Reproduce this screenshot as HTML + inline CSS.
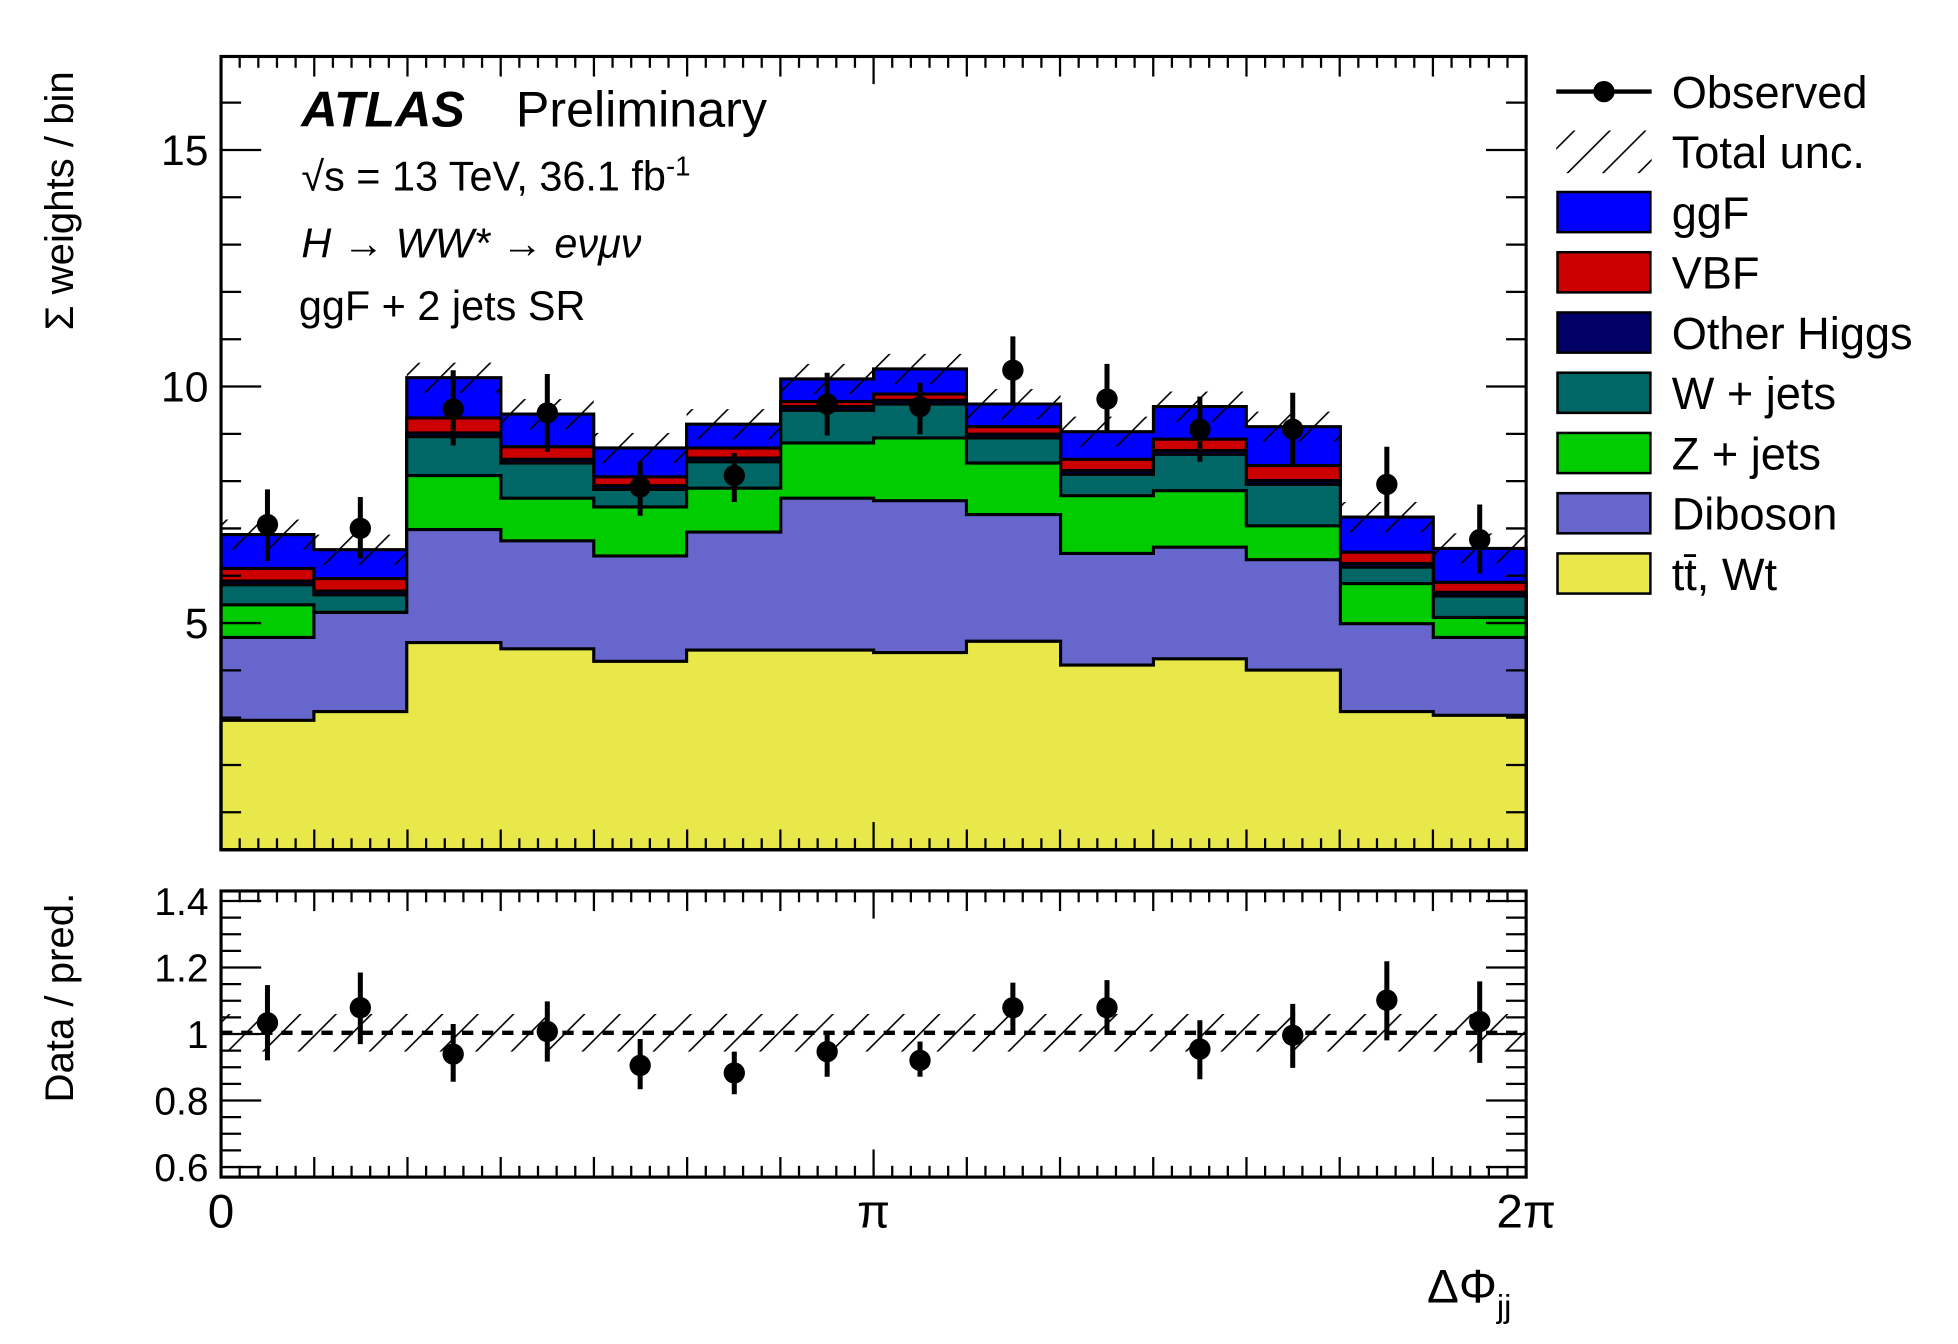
<!DOCTYPE html>
<html><head><meta charset="utf-8"><style>
html,body{margin:0;padding:0;background:#fff;width:1958px;height:1344px;overflow:hidden}
svg{display:block;font-family:"Liberation Sans",sans-serif}
</style></head><body>
<svg id="s" width="1958" height="1344" viewBox="0 0 1560 1071" xmlns="http://www.w3.org/2000/svg">
<defs>
<pattern id="h" patternUnits="userSpaceOnUse" width="20" height="20" patternTransform="rotate(45)">
<line x1="0" y1="0" x2="0" y2="20" stroke="#000" stroke-width="2.6"/>
</pattern>
</defs>
<g id="g"></g>
<text x="240" y="101" font-size="40" font-weight="bold" font-style="italic">ATLAS</text>
<text x="411" y="101" font-size="40">Preliminary</text>
<text x="240" y="152" font-size="33">√s = 13 TeV, 36.1 fb<tspan dy="-12" font-size="22">-1</tspan></text>
<text x="240" y="205" font-size="33" font-style="italic">H → WW* → eνμν</text>
<text x="238" y="255" font-size="33">ggF + 2 jets SR</text>
<text font-size="32" transform="translate(58,160) rotate(-90)" text-anchor="middle">Σ weights / bin</text>
<text font-size="32" transform="translate(58,795) rotate(-90)" text-anchor="middle">Data / pred.</text>
<text x="176" y="978" font-size="38" text-anchor="middle">0</text>
<text x="696" y="978" font-size="38" text-anchor="middle">π</text>
<text x="1216" y="978" font-size="38" text-anchor="middle">2π</text>
<text x="1137" y="1038" font-size="38">ΔΦ<tspan dy="12" font-size="26">jj</tspan></text>
</svg>
<script>
const g=document.getElementById('g');let h='';
const E=[176,250,324,399,473,547,622,696,770,845,919,993,1068,1142,1216];
const tt=[574,567,512,517,527,518,518,520,511,530,525,534,567,570];
const db=[508,488,422,431,443,424,397,399,410,441,436,446,497,508];
const zj=[482,488,379,397,404,389,353,349,369,395,391,419,465,492];
const wj=[466,474,348,369,390,368,327,322,349,378,362,386,452,475];
const oh=wj.map(v=>v-3);
const vbf=[453,461,333,356,380,357,320,314,340,366,350,371,440,464];
const ggf=[426,438,301,330,357,338,302,294,322,344,324,340,412,437];
const layers=[[ggf,'#0000ff'],[vbf,'#cc0000'],[oh,'#000066'],[wj,'#006666'],[zj,'#00cc00'],[db,'#6666cc'],[tt,'#e8e84a']];
function step(a){let p='M176,677';for(let i=0;i<14;i++){p+=`L${E[i]},${a[i]}L${E[i+1]},${a[i]}`;}return p+'L1216,677Z';}
for(const [a,c] of layers){h+=`<path d="${step(a)}" fill="${c}" stroke="#000" stroke-width="2.5"/>`;}
for(let i=0;i<14;i++){h+=`<rect x="${E[i]}" y="${ggf[i]-12}" width="${E[i+1]-E[i]}" height="24" fill="url(#h)"/>`;}
h+=`<rect x="176" y="808" width="1040" height="30" fill="url(#h)"/>`;
h+=`<line x1="176" y1="823" x2="1216" y2="823" stroke="#000" stroke-width="3.5" stroke-dasharray="9,7"/>`;
function frame(y0,y1){h+=`<rect x="176" y="${y0}" width="1040" height="${y1-y0}" fill="none" stroke="#000" stroke-width="2.5"/>`;
for(let k=0;k<=70;k++){const x=176+k*1040/70;const L=(k%5==0)?(k==35?22:16):9;
h+=`<line x1="${x}" y1="${y1}" x2="${x}" y2="${y1-L}" stroke="#000" stroke-width="1.8"/><line x1="${x}" y1="${y0}" x2="${x}" y2="${y0+L}" stroke="#000" stroke-width="1.8"/>`;}}
frame(45,677);frame(710,938);
for(let v=1;v<=16;v++){const y=685-v*37.7;if(y<47||y>675)continue;const L=v%5==0?32:16;
h+=`<line x1="176" y1="${y}" x2="${176+L}" y2="${y}" stroke="#000" stroke-width="1.8"/><line x1="1216" y1="${y}" x2="${1216-L}" y2="${y}" stroke="#000" stroke-width="1.8"/>`;
if(v%5==0)h+=`<text x="166" y="${y+12}" font-size="34" text-anchor="end">${v}</text>`;}
for(let k=0;k<=17;k++){const r=0.6+k*0.05;const y=930-(r-0.6)/0.2*53;if(y<712||y>936)continue;const mj=k%4==0;const L=mj?32:16;
h+=`<line x1="176" y1="${y}" x2="${176+L}" y2="${y}" stroke="#000" stroke-width="1.8"/><line x1="1216" y1="${y}" x2="${1216-L}" y2="${y}" stroke="#000" stroke-width="1.8"/>`;
if(mj){const t=(Math.round(r*10)/10).toString();h+=`<text x="166" y="${y+11}" font-size="31" text-anchor="end">${t}</text>`;}}
const C=[213,287,361,436,510,585,659,733,807,882,956,1030,1105,1179];
const d=[[418,390,447],[421,396,445],[326,295,355],[329,298,360],[388,368,411],[379,361,400],[322,297,347],[324,305,346],[295,268,322],[318,290,345],[342,316,368],[342,313,370],[386,356,412],[430,402,457]];
const r=[[815,785,845],[803,775,832],[840,816,862],[822,798,846],[849,828,868],[855,838,872],[838,822,858],[845,830,858],[803,783,822],[803,781,824],[836,813,860],[825,800,851],[797,766,829],[814,782,847]];
for(let i=0;i<14;i++){for(const a of [d[i],r[i]]){h+=`<line x1="${C[i]}" y1="${a[1]}" x2="${C[i]}" y2="${a[2]}" stroke="#000" stroke-width="4"/><circle cx="${C[i]}" cy="${a[0]}" r="8.5" fill="#000"/>`;}}
const lab=['Observed','Total unc.','ggF','VBF','Other Higgs','W + jets','Z + jets','Diboson','tt̄, Wt'];
const col=[null,null,'#0000ff','#cc0000','#000066','#006666','#00cc00','#6666cc','#e8e84a'];
for(let k=0;k<9;k++){const y=73+k*48;
if(k==0)h+=`<line x1="1240" y1="${y}" x2="1316" y2="${y}" stroke="#000" stroke-width="3.5"/><circle cx="1278" cy="${y}" r="8.5"/>`;
else if(k==1)h+=`<rect x="1240" y="${y-17}" width="76" height="34" fill="url(#h)"/>`;
else h+=`<rect x="1241" y="${y-16}" width="74" height="32" fill="${col[k]}" stroke="#000" stroke-width="2"/>`;
h+=`<text x="1332" y="${y+13}" font-size="36">${lab[k]}</text>`;}
g.innerHTML=h;
</script>
</body></html>
